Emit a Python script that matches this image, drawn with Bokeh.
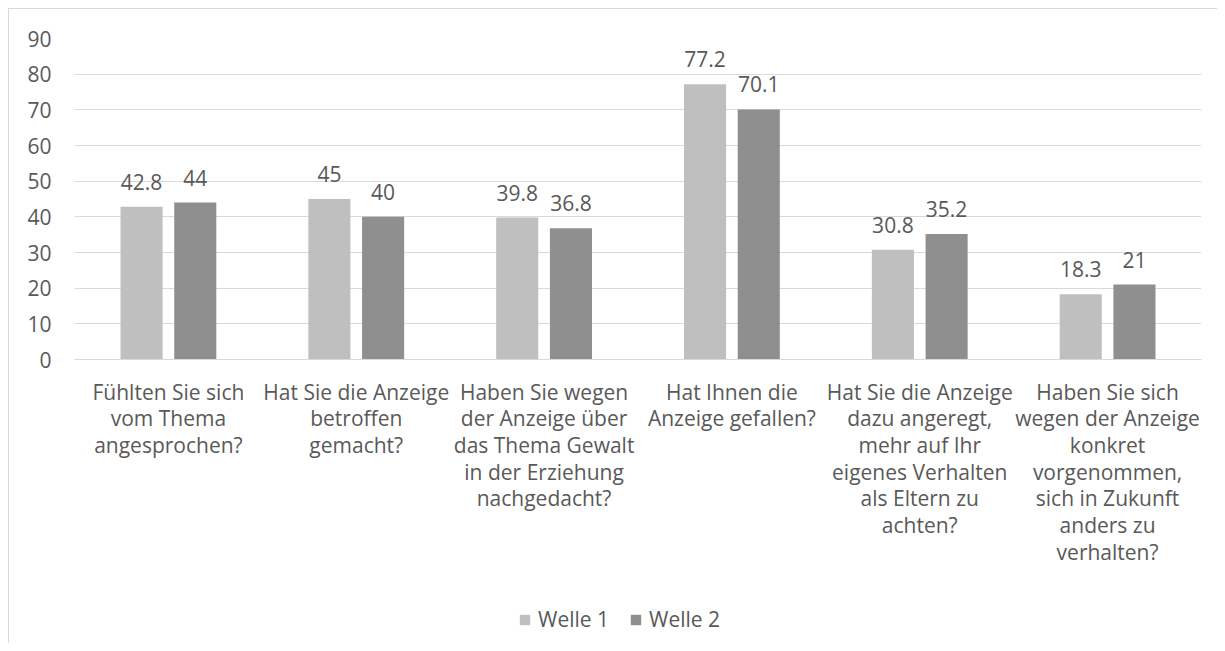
from bokeh.plotting import figure
from bokeh.layouts import column
from bokeh.models import ColumnDataSource, FactorRange, Legend, LegendItem, FixedTicker, Range1d
from bokeh.transform import dodge
from bokeh.core.properties import value
from bokeh.embed import file_html
from bokeh.resources import INLINE

categories = [
    "Fühlten Sie sich\nvom Thema\nangesprochen?",
    "Hat Sie die Anzeige\nbetroffen\ngemacht?",
    "Haben Sie wegen\nder Anzeige über\ndas Thema Gewalt\nin der Erziehung\nnachgedacht?",
    "Hat Ihnen die\nAnzeige gefallen?",
    "Hat Sie die Anzeige\ndazu angeregt,\nmehr auf Ihr\neigenes Verhalten\nals Eltern zu\nachten?",
    "Haben Sie sich\nwegen der Anzeige\nkonkret\nvorgenommen,\nsich in Zukunft\nanders zu\nverhalten?",
]
welle1 = [42.8, 45, 39.8, 77.2, 30.8, 18.3]
welle2 = [44, 40, 36.8, 70.1, 35.2, 21]
series_names = ["Welle 1", "Welle 2"]
y_ticks = [0, 10, 20, 30, 40, 50, 60, 70, 80, 90]

FONT = "Open Sans"
FS = "21px"
TXT = "#595959"
GRID = "#d9d9d9"
C1 = "#bfbfbf"
C2 = "#8f8f8f"

src = ColumnDataSource(dict(
    cat=categories, w1=welle1, w2=welle2,
    l1=[f"{v:g}" for v in welle1], l2=[f"{v:g}" for v in welle2],
))

p = figure(
    x_range=FactorRange(*categories), y_range=(0, 90),
    width=1209, height=590, output_backend="svg", toolbar_location=None,
    min_border_left=65, min_border_right=17, min_border_top=29, min_border_bottom=240,
)
p.margin = (8, 0, 0, 8)
p.styles = {"border-left": "1px solid #d9d9d9", "border-top": "1px solid #d9d9d9"}
p.outline_line_color = None
p.background_fill_color = "white"
p.border_fill_color = "white"

off = 0.143
bw = 0.224
r1 = p.vbar(x=dodge("cat", -off, range=p.x_range), top="w1", width=bw, source=src,
            fill_color=C1, line_color=None)
r2 = p.vbar(x=dodge("cat", off, range=p.x_range), top="w2", width=bw, source=src,
            fill_color=C2, line_color=None)

for col, lab, sign in (("w1", "l1", -1), ("w2", "l2", 1)):
    p.text(x=dodge("cat", sign * off, range=p.x_range), y=col, text=lab, source=src,
           text_align="center", text_baseline="alphabetic", y_offset=-25,
           text_font=value(FONT), text_font_size=FS, text_color=TXT)

p.xgrid.grid_line_color = None
p.ygrid.grid_line_color = GRID
p.ygrid.grid_line_width = 1
p.yaxis.ticker = FixedTicker(ticks=y_ticks)

p.yaxis.axis_line_color = None
p.yaxis.major_tick_line_color = None
p.yaxis.minor_tick_line_color = None
p.yaxis.major_tick_out = 0
p.yaxis.major_label_standoff = 23
p.yaxis.major_label_text_font = FONT
p.yaxis.major_label_text_font_size = FS
p.yaxis.major_label_text_color = TXT

p.xaxis.axis_line_color = GRID
p.xaxis.axis_line_width = 1
p.xaxis.major_tick_line_color = None
p.xaxis.minor_tick_line_color = None
p.xaxis.major_tick_out = 0
p.xaxis.major_label_standoff = 18
p.xaxis.major_label_text_font = FONT
p.xaxis.major_label_text_font_size = FS
p.xaxis.major_label_text_color = TXT
p.xaxis.major_label_text_line_height = 0.955
p.xaxis.major_label_orientation = "horizontal"

# legend strip below the chart; swatch renderers hold a single non-drawable (NaN) row
pl = figure(width=1209, height=45, output_backend="svg", toolbar_location=None,
            min_border=0, x_axis_location=None, y_axis_location=None,
            x_range=Range1d(0, 1), y_range=Range1d(0, 1))
pl.margin = (0, 0, 0, 8)
pl.styles = {"border-left": "1px solid #d9d9d9"}
pl.grid.visible = False
pl.outline_line_color = None
pl.border_fill_color = "white"
pl.background_fill_color = "white"
swatch_src = ColumnDataSource(dict(x=[float("nan")], y=[float("nan")]))
d1 = pl.vbar(x="x", top="y", width=0.1, source=swatch_src, fill_color=C1, line_color=None)
d2 = pl.vbar(x="x", top="y", width=0.1, source=swatch_src, fill_color=C2, line_color=None)

legend = Legend(
    items=[LegendItem(label=series_names[0], renderers=[d1]),
           LegendItem(label=series_names[1], renderers=[d2])],
    orientation="horizontal", location=(444, 10),
    glyph_width=13, glyph_height=13, label_standoff=7, spacing=20,
    padding=0, margin=0, border_line_color=None, background_fill_alpha=0,
    label_text_font=FONT, label_text_font_size=FS, label_text_color=TXT,
)
pl.add_layout(legend, "center")

open("out.html", "w").write(file_html(column(p, pl, spacing=0), INLINE))
